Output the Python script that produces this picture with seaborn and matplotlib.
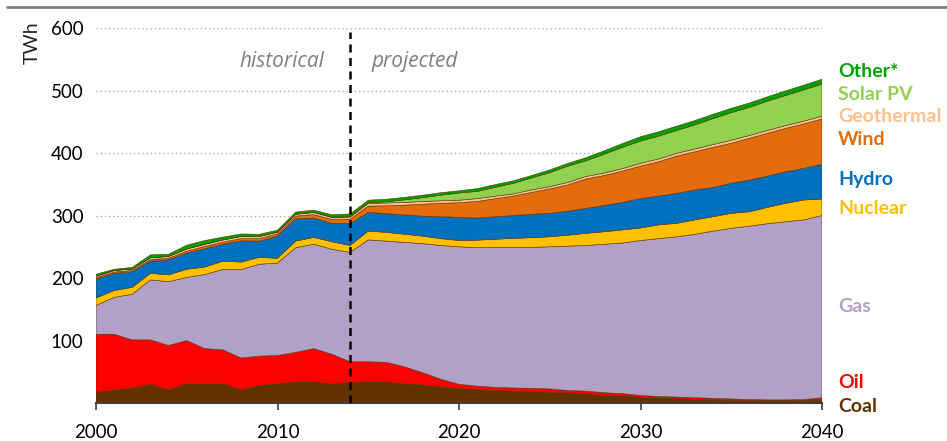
import matplotlib
matplotlib.use("Agg")
import matplotlib.pyplot as plt
import seaborn as sns
import numpy as np
import pandas as pd

years = list(range(2000, 2041))

coal = [18, 21, 24, 30, 21, 31, 31, 31, 21, 28, 31, 34, 34, 31, 33,
        34, 34, 31, 29, 26, 23, 22, 20, 19, 18, 17, 16, 15, 12, 12,
        9, 8, 7, 6, 5, 4, 4, 4, 4, 4, 5]
oil = [92, 89, 77, 71, 71, 69, 56, 54, 51, 47, 45, 47, 53, 47, 33,
       32, 31, 27, 19.5, 12, 7, 5, 5, 5, 5.5, 5.5, 4, 4, 4.5, 3,
       3, 2.5, 2.5, 2.5, 2.5, 2.5, 1.5, 1, 1, 1.5, 3.5]
gas = [46, 59, 73, 96, 102, 101, 118.5, 129, 141.5, 147, 148, 167.5, 167, 168, 175,
       195, 194, 199, 206.5, 214, 220, 221.5, 224, 225, 225.5, 227.5, 231, 233, 237.5, 241,
       248, 252.5, 256.5, 261.5, 267.5, 273, 277.5, 282, 285, 287.5, 291.5]
nuclear = [12, 11, 11, 10.5, 11, 13, 12, 13, 12, 11, 7.5, 10.5, 11, 12, 11,
           14, 14, 13, 12, 11, 10, 12, 13, 14.5, 15.5, 16, 17.5, 19.5, 20, 21,
           20, 22, 21.5, 23, 23, 24, 23, 26, 29.5, 31.8, 26.4]
hydro = [30, 27.5, 25, 19.5, 24, 26, 29.5, 27, 34, 26, 35.5, 35.5, 31, 29.5, 35,
         30, 30, 31, 32, 35, 37, 35.5, 36, 36.5, 37.5, 37.5, 38.5, 40, 42, 44,
         47, 46, 48, 48, 47, 48, 50.8, 50, 50.5, 50.7, 55.6]
wind = [2.5, 2, 2, 2.5, 2.5, 3, 3.5, 3.5, 3.5, 4, 3.5, 4.5, 5.5, 6, 7,
        10, 12.5, 15.5, 19, 21.5, 23.5, 26.5, 29, 31, 35, 39, 42, 47, 48, 50,
        52, 55, 59.5, 61, 64, 64, 66.7, 68.5, 69.5, 71, 72.4]
geothermal = [2.5, 2.5, 2.5, 3, 3, 3.5, 3.5, 3.5, 3.5, 3.5, 3, 3, 3.5, 3.5, 3.5,
              4.5, 4.5, 4.5, 4.5, 4, 4, 4.5, 4, 3.5, 4, 3.6, 4, 4, 4, 4,
              4.5, 4.5, 4.5, 4.5, 4.5, 5, 4.5, 4.5, 4.5, 4.5, 4.6]
solar = [0, 0, 0, 0, 0, 0, 0, 0, 0, 0, 0, 0, 0.1, 0.2, 0.5,
         1, 2, 4, 6, 9, 11.5, 11.5, 14, 17, 19, 22.5, 26, 25, 30, 34,
         35.5, 36.5, 36.5, 38.5, 41.5, 44, 45, 47, 48, 50, 51]
other = [3, 2, 2.5, 4.5, 3.5, 6, 6, 4.5, 4, 3.5, 3, 3.5, 3.5, 4, 4.5,
         4, 4, 4, 4, 4, 3.5, 4.5, 4.5, 4, 4, 4.3, 4.5, 5, 5.5, 6,
         7, 7, 7, 7, 7, 7, 7, 7, 7.5, 7.5, 8]

series_names = ["Coal", "Oil", "Gas", "Nuclear", "Hydro", "Wind", "Geothermal", "Solar PV", "Other*"]
colors = ["#613200", "#FF0000", "#B1A0C7", "#FFC000", "#0070C0", "#E46C0A", "#FAC090", "#92D050", "#00A000"]
label_y = [-5, 32, 155, 312, 358, 422, 459, 493, 530]

y_ticks = [100, 200, 300, 400, 500, 600]
x_ticks = [2000, 2010, 2020, 2030, 2040]

df = pd.DataFrame({"year": years, "Coal": coal, "Oil": oil, "Gas": gas, "Nuclear": nuclear,
                   "Hydro": hydro, "Wind": wind, "Geothermal": geothermal,
                   "Solar PV": solar, "Other*": other})

sns.set_theme(style="white")
plt.rcParams["font.family"] = ["Lato", "DejaVu Sans"]

fig = plt.figure(figsize=(9.47, 4.41), dpi=100)
ax = fig.add_axes([96 / 947, 1 - 403 / 441, 726 / 947, 375 / 441])

ax.stackplot(df["year"], [df[n] for n in series_names], colors=colors,
             linewidth=0.4, edgecolors=colors, zorder=2)

ax.set_xlim(2000, 2040)
ax.set_ylim(0, 600)
ax.set_yticks(y_ticks)
ax.set_xticks(x_ticks)
ax.yaxis.grid(True, linestyle=(0, (1, 2)), color="#A6A6A6", linewidth=1.0, zorder=0)
ax.set_axisbelow(True)
for s in ["left", "right", "top"]:
    ax.spines[s].set_visible(False)
ax.spines["bottom"].set_color("#404040")
ax.spines["bottom"].set_linewidth(1.5)
ax.spines["bottom"].set_zorder(5)
ax.tick_params(axis="x", which="both", bottom=True, length=5, width=1.2, color="#404040",
               direction="out", labelsize=13.5, pad=10, labelcolor="black")
ax.tick_params(axis="y", length=0, labelsize=13.5, pad=9, labelcolor="black")
ax.set_ylabel("TWh", fontsize=14, labelpad=6)
ax.yaxis.set_label_coords(-0.076, 0.96)

ax.plot([2014, 2014], [0, 594], color="black", linestyle=(0, (3.2, 2.2)), linewidth=1.8, zorder=6)
ax.text(2012.6, 546, "historical", ha="right", va="center", fontsize=15, style="italic",
        color="#7F7F7F", family=["Open Sans", "DejaVu Sans"])
ax.text(2015.2, 546, "projected", ha="left", va="center", fontsize=15, style="italic",
        color="#7F7F7F", family=["Open Sans", "DejaVu Sans"])

for name, c, ly in zip(series_names, colors, label_y):
    ax.text(1.022, ly, name, transform=ax.get_yaxis_transform(), ha="left", va="center",
            fontsize=14, fontweight="bold", color=c, clip_on=False)

fig.add_artist(plt.Line2D([7 / 947, 1.0], [1 - 7 / 441, 1 - 7 / 441], color="#808080", linewidth=2))

fig.savefig("out.png", dpi=100)
